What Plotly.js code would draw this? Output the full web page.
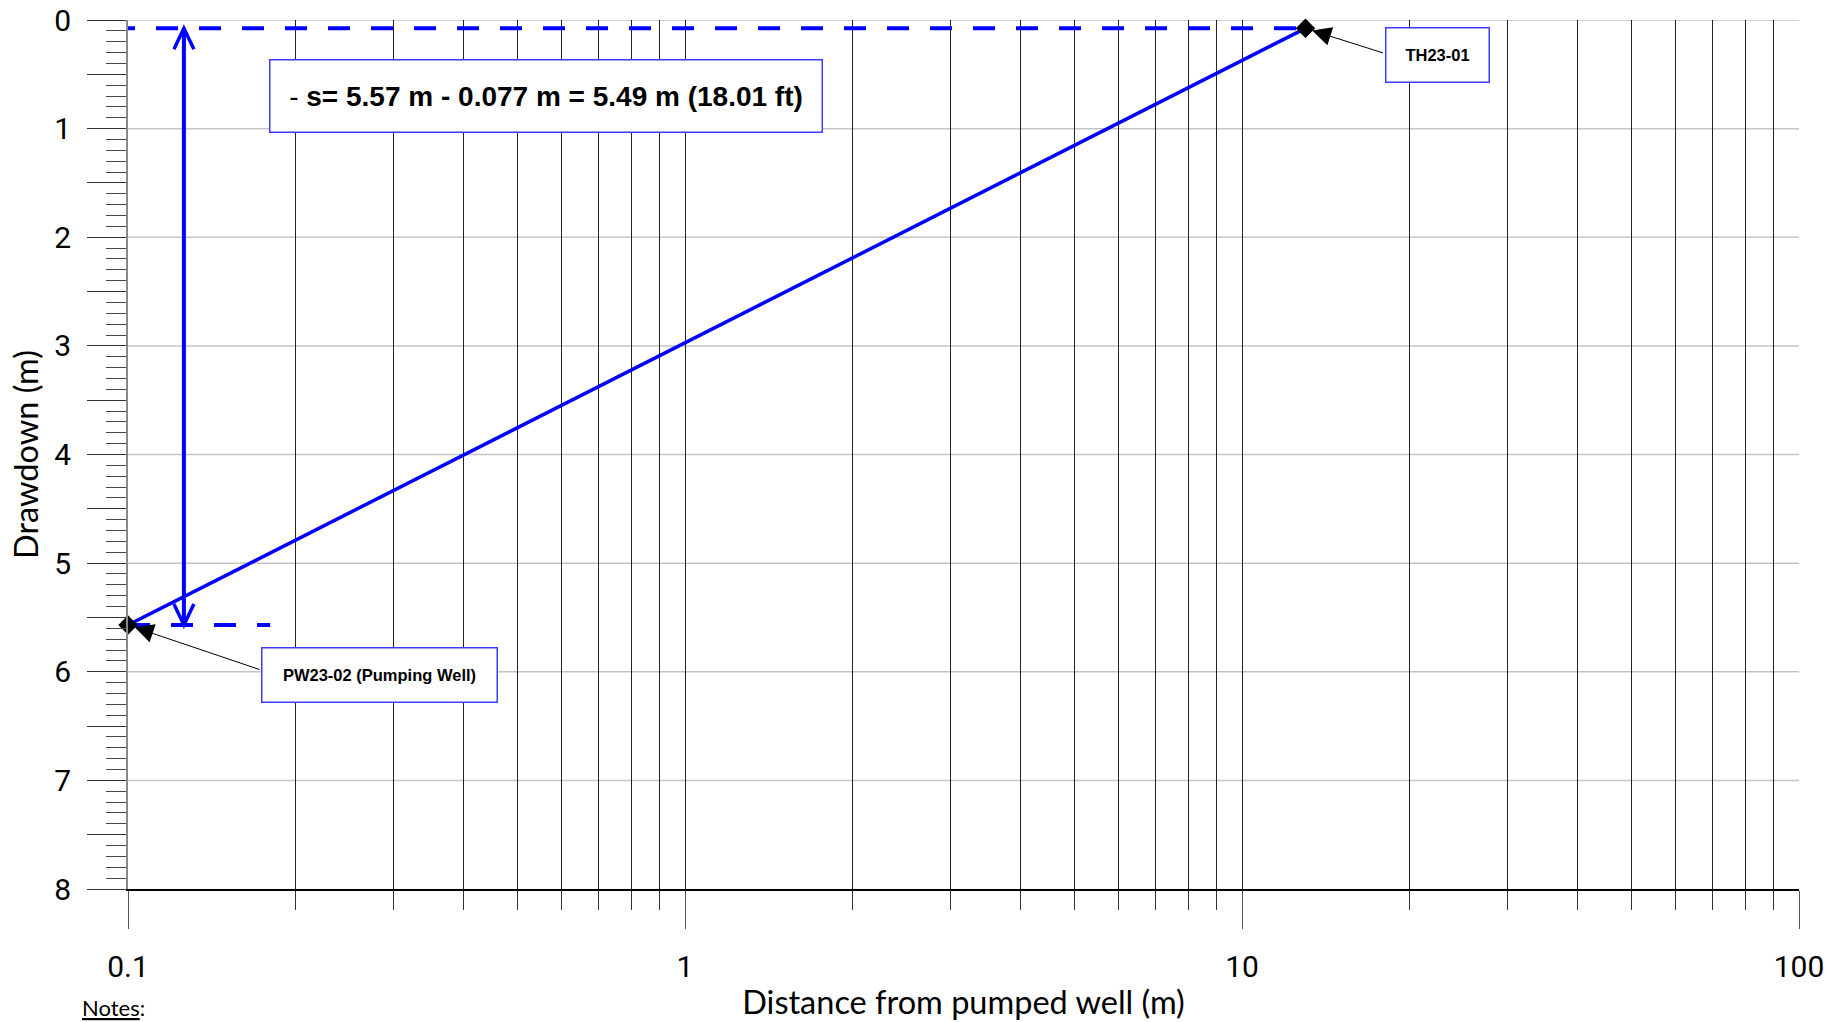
<!DOCTYPE html>
<html><head><meta charset="utf-8">
<script src="https://cdn.plot.ly/plotly-3.0.1.min.js"></script>
<style>html,body{margin:0;padding:0;background:#fff}#chart{width:1841px;height:1022px}</style>
</head><body><div id="chart"></div>
<script>
// ---- data ----
const wellNames = ['PW23-02 (Pumping Well)', 'TH23-01'];
const distances = [0.1, 13.0];          // m
const drawdowns = [5.57, 0.077];        // m
const topRefX = [0.094, 13.0];          // dashed reference at TH23-01 drawdown
const bottomRefX = [0.1, 0.18];         // dashed reference at PW23-02 drawdown
const arrowX = [0.126, 0.126];          // double-headed arrow position
const deltaLabel = '<span style="font-weight:normal">-</span> s= 5.57 m - 0.077 m = 5.49 m (18.01 ft)';
const xTickVals = [0.1, 1, 10, 100];
const xTickText = ['0.1', '1', '10', '100'];
const xMinorVals = [0.2,0.3,0.4,0.5,0.6,0.7,0.8,0.9,2,3,4,5,6,7,8,9,20,30,40,50,60,70,80,90];
const yTickVals = [0,0.5,1,1.5,2,2.5,3,3.5,4,4.5,5,5.5,6,6.5,7,7.5,8];
const yTickText = ['0','','1','','2','','3','','4','','5','','6','','7','','8'];
const yGridVals = [0,1,2,3,4,5,6,7];
const xTitle = 'Distance from pumped well (m)';
const yTitle = 'Drawdown (m)';
const notesText = '<u>Notes</u>:';

// ---- styling ----
const blue = '#0000ff';
const boxBorder = '#3c3cff';
const titleFont = 'Lato, Roboto, sans-serif';
const tickFontFam = 'Roboto, sans-serif';
const boxFont = '"Liberation Sans", Arial, sans-serif';

const yMinorVals = [];
for (let i = 1; i < 80; i++) { if (i % 5 !== 0) yMinorVals.push(i / 10); }

const traces = [
  {x: topRefX, y: [drawdowns[1], drawdowns[1]], mode: 'lines',
   line: {color: blue, width: 4, dash: '22px,21px'}, cliponaxis: false, hoverinfo: 'skip'},
  {x: bottomRefX, y: [drawdowns[0], drawdowns[0]], mode: 'lines',
   line: {color: blue, width: 4, dash: '22px,21px'}, hoverinfo: 'skip'},
  {x: arrowX, y: [drawdowns[1], drawdowns[0]], mode: 'lines',
   line: {color: blue, width: 4}, hoverinfo: 'skip'},
  {x: distances, y: drawdowns, text: wellNames, mode: 'lines+markers',
   line: {color: blue, width: 3.5},
   marker: {symbol: 'diamond', size: 15, color: 'black'}, cliponaxis: false}
];

const shapes = yGridVals.map(v => ({
  type: 'line', xref: 'paper', yref: 'y', x0: 0, x1: 1, y0: v, y1: v,
  layer: 'below', line: {color: '#c4c4c4', width: 1.5}
}));
// open arrowheads of the vertical double arrow
shapes.push({type: 'path', xref: 'x', yref: 'y', xsizemode: 'pixel', ysizemode: 'pixel',
  xanchor: arrowX[0], yanchor: drawdowns[1], path: 'M-10,-21L0,0L10,-21',
  line: {color: blue, width: 3.5}, fillcolor: 'rgba(0,0,0,0)', layer: 'above'});
shapes.push({type: 'path', xref: 'x', yref: 'y', xsizemode: 'pixel', ysizemode: 'pixel',
  xanchor: arrowX[1], yanchor: drawdowns[0], path: 'M-10,21L0,0L10,21',
  line: {color: blue, width: 3.5}, fillcolor: 'rgba(0,0,0,0)', layer: 'above'});

const boxCommon = {xref: 'paper', yref: 'paper', xanchor: 'center', yanchor: 'middle',
  showarrow: false, bgcolor: 'white', bordercolor: boxBorder, borderwidth: 1.5, borderpad: 0,
  align: 'center', valign: 'middle'};

const annotations = [
  Object.assign({}, boxCommon, {x: 0.2500, y: 0.9130, text: '<b>' + deltaLabel + '</b>',
   font: {family: boxFont, size: 28, color: 'black'}, width: 551, height: 71}),
  Object.assign({}, boxCommon, {x: 0.7839, y: 0.9593, text: '<b>' + wellNames[1] + '</b>',
   font: {family: boxFont, size: 16.5, color: 'black'}, width: 102, height: 53}),
  Object.assign({}, boxCommon, {x: 0.1506, y: 0.2460, text: '<b>' + wellNames[0] + '</b>',
   font: {family: boxFont, size: 16.5, color: 'black'}, width: 234, height: 53}),
  // leader arrows
  {xref: 'x', yref: 'y', x: Math.log10(distances[1]), y: drawdowns[1], text: '',
   showarrow: true, arrowhead: 2, arrowsize: 3.8, arrowwidth: 1, arrowcolor: 'black',
   standoff: 7, ax: 79, ay: 25},
  {xref: 'x', yref: 'y', x: Math.log10(distances[0]), y: drawdowns[0], text: '',
   showarrow: true, arrowhead: 2, arrowsize: 3.8, arrowwidth: 1, arrowcolor: 'black',
   standoff: 7, ax: 133, ay: 45},
  {xref: 'paper', yref: 'paper', x: -0.0287, y: -0.1358, xanchor: 'left', yanchor: 'middle',
   text: notesText, showarrow: false, font: {family: titleFont, size: 22, color: 'black'}}
];

const layout = {
  width: 1841, height: 1022,
  margin: {l: 128, r: 42, t: 20, b: 133, pad: 0},
  paper_bgcolor: 'white', plot_bgcolor: 'white',
  showlegend: false,
  xaxis: {
    type: 'log', range: [-1, 2], automargin: false,
    tickmode: 'array', tickvals: xTickVals, ticktext: xTickText,
    ticks: 'outside', ticklen: 38, tickwidth: 1, tickcolor: '#555',
    ticklabelstandoff: 12,
    showgrid: true, gridcolor: '#222', gridwidth: 1,
    minor: {tickmode: 'array', tickvals: xMinorVals, ticks: 'outside', ticklen: 19,
            tickwidth: 1, tickcolor: '#333', showgrid: true, gridcolor: '#222', gridwidth: 1},
    showline: true, linecolor: 'black', linewidth: 1.5, zeroline: false,
    tickfont: {family: tickFontFam, size: 30, color: 'black'},
    title: {text: xTitle, font: {family: titleFont, size: 32.5, color: 'black'}, standoff: 8}
  },
  yaxis: {
    range: [8, 0], automargin: false,
    tickmode: 'array', tickvals: yTickVals, ticktext: yTickText,
    ticks: 'outside', ticklen: 39, tickwidth: 1.2, tickcolor: '#333',
    ticklabelstandoff: 10,
    showgrid: false,
    minor: {tickmode: 'array', tickvals: yMinorVals, ticks: 'outside', ticklen: 20,
            tickwidth: 1.2, tickcolor: '#444', showgrid: false},
    showline: true, linecolor: '#888', linewidth: 2, zeroline: false,
    tickfont: {family: tickFontFam, size: 30, color: 'black'},
    title: {text: yTitle, font: {family: titleFont, size: 32.5, color: 'black'}, standoff: 6}
  },
  shapes: shapes,
  annotations: annotations
};

Plotly.newPlot('chart', traces, layout, {displayModeBar: false, responsive: false});
</script>
</body></html>
